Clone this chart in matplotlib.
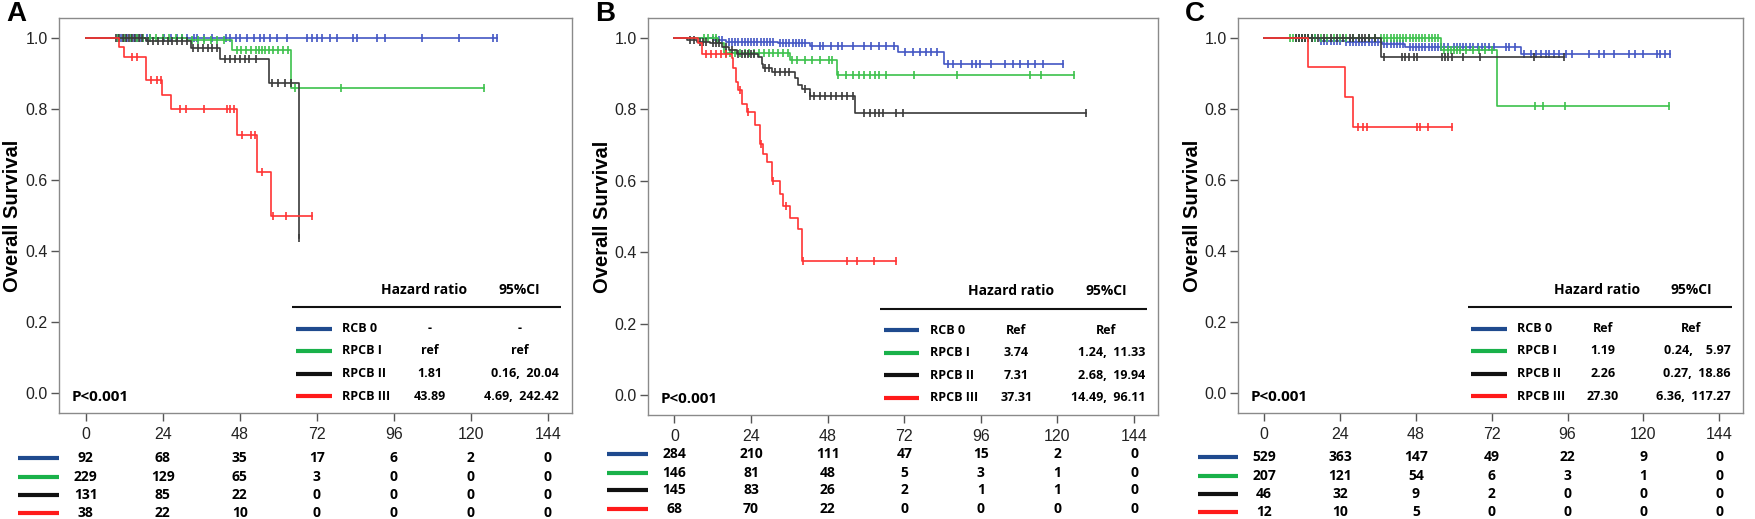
import matplotlib
matplotlib.use("Agg")
import matplotlib.pyplot as plt
import numpy as np
from matplotlib.transforms import blended_transform_factory

# ---- data ----
groups = ["RCB 0", "RPCB I", "RPCB II", "RPCB III"]
months = [0, 24, 48, 72, 96, 120, 144]

# panel A: step times, survival after each step, last follow-up, censor times
a_times = [[], [31.7, 45.7, 64.0], [18.7, 32.7, 42.0, 57.2, 66.5],
           [10.5, 12.0, 18.7, 23.9, 26.7, 47.2, 53.5, 57.6]]
a_surv = [[], [0.993, 0.966, 0.858], [0.99, 0.971, 0.94, 0.872, 0.436],
          [0.974, 0.947, 0.882, 0.84, 0.80, 0.727, 0.623, 0.50]]
a_end = [128, 124, 66.5, 70.6]
a_cens = [
    [10, 11, 12, 13, 14, 15, 16, 17, 18, 19, 20, 24.4, 26.5, 28.6, 30.1, 31.7, 33.8, 34.8, 36.9,
     39.4, 43.6, 45.1, 46.7, 48.2, 50.3, 52.4, 54.4, 55.5, 57.5, 59.6, 62.7, 68.9, 70.5, 72,
     73.6, 76.2, 78.3, 83.4, 84.5, 90.8, 93.2, 104.8, 116.3, 126.8, 128],
    [10, 12, 14, 16, 18, 20, 22, 24, 26, 28, 30, 33, 35, 37, 39, 41, 43, 47, 48.5, 50, 51.5,
     53, 54, 55, 56, 57, 58.5, 60, 61.5, 63, 65.2, 79.5, 124],
    [9.5, 10.5, 11.5, 12.5, 13.5, 14.5, 15.5, 16.5, 17.5, 19.5, 21, 22.5, 24, 25.5, 27, 28.5,
     30, 31.5, 33.5, 35, 36.5, 38, 39.5, 41, 43.5, 45, 46.5, 48, 49.5, 51, 53, 58, 60, 62, 64,
     66.5],
    [14.5, 16, 20.4, 22.2, 23.6, 29.4, 31.2, 37, 44, 45, 46.2, 48.6, 51.4, 52.6, 54.9, 58.4,
     62.4, 70.6],
]
a_risk = [[92, 68, 35, 17, 6, 2, 0], [229, 129, 65, 3, 0, 0, 0],
          [131, 85, 22, 0, 0, 0, 0], [38, 22, 10, 0, 0, 0, 0]]
a_hr = ["-", "ref", "1.81", "43.89"]
a_ci = ["-", "ref", "0.16,  20.04", "4.69,  242.42"]

# panel B
b_times = [[12, 16, 32.5, 42.5, 70, 84.5], [13.5, 15.5, 36.3, 51.0],
           [4, 7, 11, 15, 17, 19.5, 26.2, 27.3, 27.8, 30.4, 37.7, 38.8, 39.8, 42.4, 56.5],
           [7.4, 8.5, 17.9, 18.4, 19.4, 19.9, 21.0, 22.6, 25.2, 26.7, 27.8, 28.9, 30.4, 33.0,
            34.0, 36.1, 38.6, 39.8]]
b_surv = [[0.995, 0.99, 0.985, 0.977, 0.96, 0.926], [0.985, 0.957, 0.937, 0.895],
          [0.995, 0.99, 0.985, 0.975, 0.965, 0.955, 0.946, 0.927, 0.917, 0.904, 0.887, 0.868,
           0.858, 0.838, 0.79],
          [0.985, 0.955, 0.943, 0.915, 0.877, 0.853, 0.816, 0.792, 0.755, 0.703, 0.675, 0.652,
           0.60, 0.563, 0.53, 0.495, 0.465, 0.375]]
b_end = [121.8, 125.3, 129, 69.3]
b_cens = [
    [12, 13, 14, 15, 17, 18, 19, 20, 21, 22, 23, 24, 25, 26, 27, 28, 29, 30, 31, 33, 34, 35,
     36, 37, 38, 39, 40, 41, 43, 45.5, 46.6, 49, 51.3, 52.4, 56, 59.4, 61.7, 64, 66.4, 68.8,
     72.3, 74.6, 76.9, 78.7, 80.4, 82.2, 85.7, 87.4, 89.7, 93.2, 94.4, 95.6, 99.1, 103.7,
     106.1, 108.4, 110.7, 113.1, 115.4, 121.8],
    [9.3, 10.5, 12, 13, 16, 17.5, 19, 20.5, 22, 23.5, 25, 26.5, 28, 29.5, 31, 32.5, 34, 35.5,
     36.7, 38.5, 40.8, 43.1, 45.5, 48.4, 49.5, 51.3, 53.6, 55.9, 57.7, 59.4, 61.2, 62.9, 64.1,
     66.4, 75.2, 88.6, 111.3, 114.8, 125.3],
    [5, 6, 8, 9, 10, 12, 13, 14, 16, 18, 20, 21, 22, 23, 24, 25, 28.5, 29.5, 31.5, 33, 34.5,
     36, 41, 42.5, 43.7, 45.5, 47.2, 49, 50.7, 52.4, 54.2, 55.9, 59.4, 61.2, 62.9, 64.1, 65.3,
     69.3, 71.7, 128.8],
    [10, 11.5, 13, 14.5, 16, 20.5, 23, 27, 31, 35, 40.2, 54.2, 57.1, 62.4, 69.3],
]
b_risk = [[284, 210, 111, 47, 15, 2, 0], [146, 81, 48, 5, 3, 1, 0],
          [145, 83, 26, 2, 1, 1, 0], [68, 70, 22, 0, 0, 0, 0]]
b_hr = ["Ref", "3.74", "7.31", "37.31"]
b_ci = ["Ref", "1.24,  11.33", "2.68,  19.94", "14.49,  96.11"]

# panel C
c_times = [[17.6, 25.8, 37.4, 44.7, 81.2], [56.0, 73.5], [36.9], [13.7, 25.7, 28.1]]
c_surv = [[0.99, 0.988, 0.982, 0.975, 0.954], [0.966, 0.807], [0.946], [0.917, 0.833, 0.75]]
c_end = [128.4, 128, 94.9, 59.3]
c_cens = [
    [10, 11, 12, 13, 14, 15, 16, 18, 19, 20, 21, 22, 23, 24, 26, 27, 28, 29, 30, 31, 32, 33,
     34, 35, 36, 38, 39, 40, 41, 42, 43, 44, 46, 47, 48, 49, 50, 51, 52, 53, 54, 55, 56, 57,
     58, 60, 61, 62, 63, 64, 65, 66, 67.7, 69, 70, 71, 72.8, 76.4, 77.4, 79.5, 82.3, 84.4, 86,
     87.5, 89.1, 90.2, 91.7, 93.3, 95.4, 97.5, 102.7, 105.9, 107.4, 110.6, 115.3, 117.4, 120,
     124.2, 125.3, 126.8, 128.4],
    [8, 9, 10, 11, 12, 13, 14, 15, 16, 18, 20, 22, 24, 26, 28, 30, 33, 35, 37, 38, 39, 40, 41,
     42, 43, 44, 45, 46, 47, 48, 49, 50, 51, 52, 53, 54, 55, 57, 58, 59, 60, 61, 62, 64, 66,
     68, 70, 72, 85.7, 88.1, 95.1, 128],
    [10.2, 11, 12, 13, 14, 15, 17, 19, 21, 23, 25, 27, 28, 30, 31, 32, 33, 35, 37.9, 43.7,
     44.7, 45.8, 47.3, 48.4, 56.2, 57.3, 58.3, 59.4, 63, 68.2, 85.5, 94.9],
    [29.6, 31.4, 32.5, 48.3, 49.4, 51.7, 59.3],
]
c_risk = [[529, 363, 147, 49, 22, 9, 0], [207, 121, 54, 6, 3, 1, 0],
          [46, 32, 9, 2, 0, 0, 0], [12, 10, 5, 0, 0, 0, 0]]
c_hr = ["Ref", "1.19", "2.26", "27.30"]
c_ci = ["Ref", "0.24,    5.97", "0.27,  18.86", "6.36,  117.27"]

# ---- styling ----
curve_colors = ["#4356c4", "#3cc14c", "#3a3a3a", "#ff3434"]
key_colors = ["#1f4a8e", "#19b14a", "#111111", "#ff1a1a"]
tick_font = "Liberation Sans"
table_font = "Open Sans"

W, H = 1755, 519
fig = plt.figure(figsize=(W / 100, H / 100), dpi=100)

# axes boxes in pixels: left, right, top, bottom, plus risk-table rows (axes fraction)
boxes = [(59, 572, 18, 413), (648, 1158, 18, 415), (1238, 1743, 18, 413)]
risk_rows = [[-0.114, -0.162, -0.208, -0.253],
             [-0.097, -0.145, -0.190, -0.236],
             [-0.111, -0.159, -0.205, -0.251]]
letters = ["A", "B", "C"]
panels = [(a_times, a_surv, a_end, a_cens, a_risk, a_hr, a_ci),
          (b_times, b_surv, b_end, b_cens, b_risk, b_hr, b_ci),
          (c_times, c_surv, c_end, c_cens, c_risk, c_hr, c_ci)]


def km_curve(ax, t, s, end, cens, color):
    tt = [0] + list(t) + [end]
    ss = [1.0] + list(s) + [s[-1] if s else 1.0]
    ax.step(tt, ss, where="post", color=color, lw=1.2, zorder=3)
    levels = np.array([1.0] + list(s))
    idx = np.searchsorted(np.array(t, dtype=float), cens, side="right")
    ax.plot(cens, levels[idx], ls="none", marker="|", ms=6, mew=1.2,
            color=color, zorder=3)


for k, (box, panel) in enumerate(zip(boxes, panels)):
    left, right, top, bottom = box
    times, surv, ends, cens, risk, hr, ci = panel
    ax = fig.add_axes([left / W, 1 - bottom / H, (right - left) / W, (bottom - top) / H])

    for g in range(4):
        km_curve(ax, times[g], surv[g], ends[g], cens[g], curve_colors[g])

    ax.set_xlim(-8.3, 151.5)
    ax.set_ylim(-0.056, 1.056)
    ax.set_xticks(months)
    ax.set_yticks([0.0, 0.2, 0.4, 0.6, 0.8, 1.0])
    ax.set_yticklabels(["0.0", "0.2", "0.4", "0.6", "0.8", "1.0"])
    for sp in ax.spines.values():
        sp.set_color("#8a8a8a")
        sp.set_linewidth(1.0)
    ax.tick_params(axis="both", direction="out", length=6, width=1.0, color="#555555",
                   labelcolor="#222222", labelsize=11.5)
    ax.tick_params(axis="x", pad=4)
    ax.tick_params(axis="y", pad=2)
    for lab in ax.get_xticklabels() + ax.get_yticklabels():
        lab.set_fontfamily(tick_font)

    # p-value
    ax.text(0.025, 0.04, "P<0.001", transform=ax.transAxes, fontsize=11,
            fontweight="bold", family=table_font, va="center", ha="left")

    # hazard-ratio key
    ax.text(0.712, 0.312, "Hazard ratio", transform=ax.transAxes, fontsize=10,
            fontweight="bold", family=table_font, ha="center", va="center")
    ax.text(0.898, 0.312, "95%CI", transform=ax.transAxes, fontsize=10,
            fontweight="bold", family=table_font, ha="center", va="center")
    ax.plot([0.455, 0.978], [0.268, 0.268], transform=ax.transAxes, color="#111111",
            lw=1.5, solid_capstyle="butt")
    key_y = [0.213, 0.157, 0.100, 0.043]
    for g in range(4):
        y = key_y[g]
        ax.plot([0.462, 0.532], [y, y], transform=ax.transAxes, color=key_colors[g],
                lw=3, solid_capstyle="butt")
        ax.text(0.552, y, groups[g], transform=ax.transAxes, fontsize=9,
                fontweight="bold", family=table_font, ha="left", va="center")
        ax.text(0.722, y, hr[g], transform=ax.transAxes, fontsize=9,
                fontweight="bold", family=table_font, ha="center", va="center")
        if "," in ci[g]:
            ax.text(0.975, y, ci[g], transform=ax.transAxes, fontsize=9,
                    fontweight="bold", family=table_font, ha="right", va="center")
        else:
            ax.text(0.898, y, ci[g], transform=ax.transAxes, fontsize=9,
                    fontweight="bold", family=table_font, ha="center", va="center")

    # number-at-risk table under the axis
    trans = blended_transform_factory(ax.transData, ax.transAxes)
    for g in range(4):
        y = risk_rows[k][g]
        ax.plot([-21, -8.3], [y, y], transform=trans, color=key_colors[g], lw=3,
                solid_capstyle="butt", clip_on=False)
        for m, n in zip(months, risk[g]):
            ax.text(m, y, str(n), transform=trans, fontsize=10, fontweight="bold",
                    family=table_font, ha="center", va="center", clip_on=False)

    # y label and panel letter
    fig.text((left - 46) / W, 1 - (top + bottom) / 2 / H, "Overall Survival", rotation=90,
             fontsize=14.5, fontweight="bold", family=tick_font, ha="center", va="center")
    fig.text((left - 53) / W, 1 - 1 / H, letters[k], fontsize=20, fontweight="bold",
             family=tick_font, ha="left", va="top")

fig.savefig("out.png", dpi=100)
